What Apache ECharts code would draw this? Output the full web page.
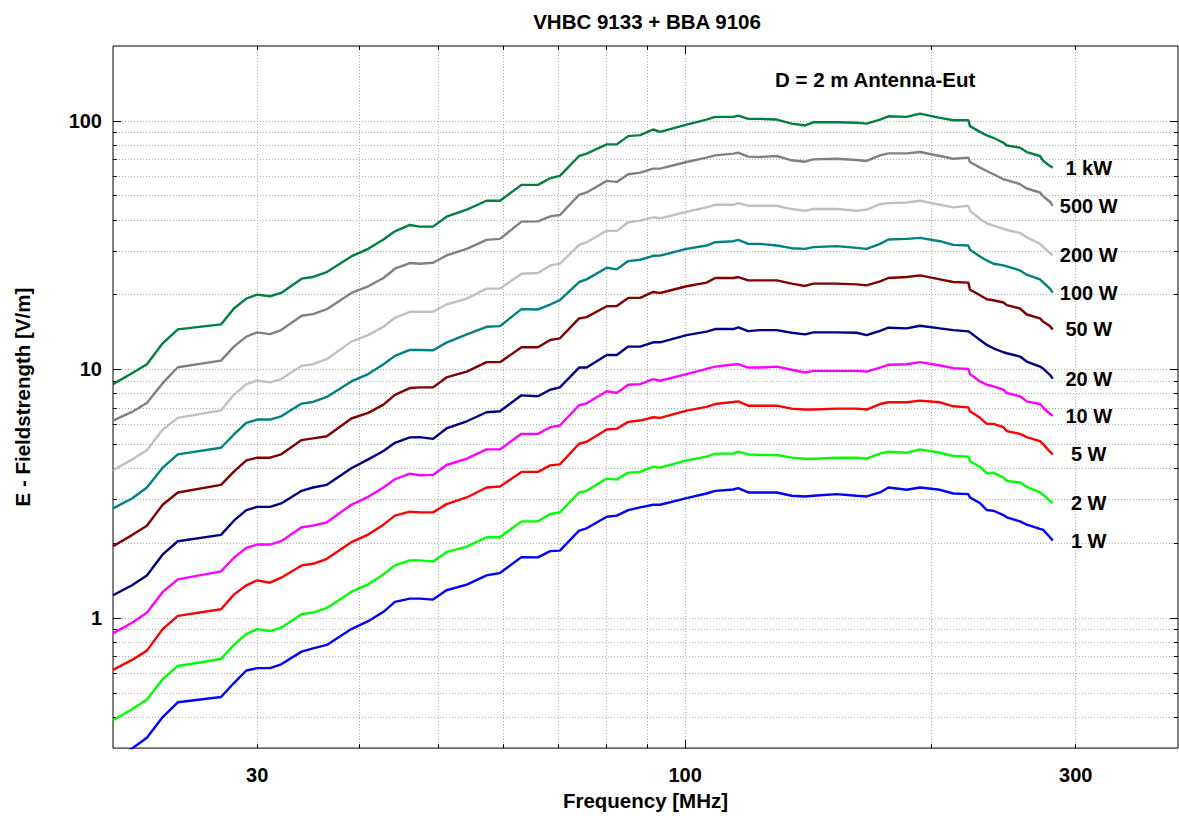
<!DOCTYPE html>
<html>
<head>
<meta charset="utf-8">
<script src="https://cdn.jsdelivr.net/npm/echarts@6.0.0/dist/echarts.min.js"></script>
<style>
html,body{margin:0;padding:0;background:#fff;}
#chart{width:1179px;height:816px;}
</style>
</head>
<body>
<div id="chart"></div>
<script>
// ---- data ----
const freqMHz = [
  20, 21.1, 22, 23, 24, 27.1, 28.1, 29.1, 30, 31.1,
  32.1, 34, 35.1, 36.5, 39.1, 41, 42.8, 44.2, 46.1, 47.4,
  49.2, 51.1, 54.1, 57.2, 59.4, 63.1, 66.1, 68.4, 70.3, 74.2,
  75.8, 80.2, 82.5, 85.2, 88.1, 91.4, 93.2, 100.4, 106.2, 108.8,
  114.5, 116.1, 119.4, 123.4, 129.4, 134.9, 140.1, 143.4, 153.1, 162,
  166.6, 173, 177.1, 186.5, 193.6, 204.8, 212.6, 221.8, 222.8, 229.2,
  233.6, 238, 244.8, 247.1, 256.5, 261.4, 271.3, 273.9, 279, 281.2
];
const e1kW = [
  8.73, 9.65, 10.5, 12.74, 14.5, 15.18, 17.59, 19.28, 20.01, 19.7,
  20.32, 23.19, 23.55, 24.65, 28.49, 30.56, 33.31, 35.96, 38.13, 37.55,
  37.55, 41.17, 43.91, 47.7, 47.7, 55.27, 55.27, 58.77, 60.04, 72.2,
  73.8, 80.4, 80.4, 86.8, 87.6, 92.3, 90.3, 96.6, 101.2, 103.7,
  103.7, 105.0, 101.8, 101.8, 101.2, 97.5, 95.8, 98.7, 98.7, 98.3,
  97.5, 101.2, 104.3, 103.7, 106.9, 102.8, 100.6, 100.6, 95.2, 90.3,
  87.4, 85.5, 81.6, 79.6, 78.0, 74.9, 72.2, 68.96, 65.8, 64.85
];
const e500W = [
  6.23, 6.75, 7.33, 8.81, 10.21, 10.86, 12.36, 13.55, 14.1, 13.88,
  14.4, 16.44, 16.7, 17.48, 20.32, 21.61, 23.33, 25.42, 26.79, 26.62,
  26.87, 28.74, 30.56, 33.21, 33.51, 39.32, 39.4, 41.3, 41.81, 50.41,
  51.51, 57.34, 56.81, 60.98, 61.93, 64.25, 64.25, 68.32, 71.11, 72.65,
  73.78, 74.46, 71.77, 71.54, 72.2, 69.4, 68.5, 70.0, 70.4, 69.6,
  68.96, 72.65, 74.0, 74.0, 74.9, 72.2, 70.4, 71.1, 68.3, 64.85,
  62.86, 60.98, 58.23, 57.7, 55.63, 53.45, 51.5, 49.65, 47.27, 45.56
];
const e200W = [
  3.93, 4.34, 4.73, 5.73, 6.39, 6.85, 7.91, 8.73, 9.03, 8.87,
  9.15, 10.34, 10.5, 11.0, 12.94, 13.75, 14.85, 16.14, 17.06, 17.06,
  17.06, 18.25, 19.28, 21.14, 21.14, 24.28, 24.43, 26.21, 26.62, 31.71,
  32.5, 36.18, 36.0, 39.08, 39.67, 40.93, 40.55, 43.1, 44.86, 45.97,
  45.97, 46.69, 45.56, 45.56, 45.56, 44.18, 43.5, 44.18, 44.18, 43.5,
  43.9, 46.26, 46.69, 46.97, 47.7, 45.97, 44.86, 45.56, 43.5, 40.3,
  38.7, 37.9, 36.75, 36.4, 35.42, 34.03, 32.0, 31.04, 29.46, 28.74
];
const e100W = [
  2.762, 3.028, 3.351, 4.029, 4.556, 4.844, 5.476, 6.1, 6.29, 6.29,
  6.48, 7.29, 7.4, 7.75, 8.95, 9.58, 10.5, 11.34, 11.98, 11.98,
  11.95, 12.82, 13.84, 14.85, 14.94, 17.48, 17.43, 18.25, 18.99, 22.48,
  23.04, 25.66, 25.27, 27.29, 27.62, 28.66, 28.7, 30.56, 31.51, 32.5,
  32.8, 33.21, 32.0, 32.0, 31.51, 30.75, 30.56, 31.04, 31.33, 30.85,
  30.56, 32.0, 33.31, 33.51, 33.82, 32.8, 31.71, 31.51, 30.28, 28.49,
  27.45, 26.62, 26.21, 25.97, 25.03, 24.05, 23.04, 22.35, 21.14, 20.38
];
const e50W = [
  1.946, 2.157, 2.354, 2.857, 3.201, 3.435, 3.884, 4.31, 4.418, 4.418,
  4.556, 5.2, 5.28, 5.39, 6.35, 6.69, 7.22, 7.91, 8.42, 8.47,
  8.47, 9.29, 9.81, 10.7, 10.7, 12.28, 12.28, 13.14, 13.34, 16.04,
  16.24, 17.97, 18.0, 19.4, 19.4, 20.5, 20.3, 21.61, 22.35, 23.33,
  23.33, 23.54, 22.83, 22.83, 22.83, 22.14, 21.67, 22.14, 22.14, 22.0,
  21.8, 22.62, 23.33, 23.54, 23.9, 23.04, 22.48, 22.35, 20.95, 19.88,
  19.16, 18.99, 18.59, 18.14, 17.59, 16.64, 16.04, 15.55, 14.94, 14.5
];
const e20W = [
  1.236, 1.355, 1.485, 1.803, 2.038, 2.161, 2.465, 2.72, 2.8, 2.8,
  2.892, 3.25, 3.351, 3.435, 4.005, 4.35, 4.7, 5.07, 5.33, 5.345,
  5.26, 5.79, 6.19, 6.73, 6.79, 7.87, 7.8, 8.29, 8.47, 10.18,
  10.18, 11.44, 11.44, 12.36, 12.36, 12.86, 12.86, 13.75, 14.19, 14.54,
  14.54, 14.77, 14.27, 14.4, 14.4, 14.05, 13.84, 14.1, 14.1, 14.05,
  13.75, 14.31, 14.72, 14.63, 14.99, 14.63, 14.4, 14.23, 14.1, 13.14,
  12.55, 12.17, 11.73, 11.62, 11.27, 10.76, 10.27, 10.06, 9.52, 9.18
];
const e10W = [
  0.868, 0.958, 1.05, 1.274, 1.432, 1.541, 1.748, 1.917, 1.976, 1.976,
  2.038, 2.319, 2.354, 2.428, 2.857, 3.075, 3.351, 3.618, 3.813, 3.754,
  3.766, 4.129, 4.377, 4.77, 4.77, 5.51, 5.51, 5.86, 5.95, 7.18,
  7.31, 8.17, 8.04, 8.68, 8.73, 9.15, 9.01, 9.58, 10.06, 10.27,
  10.47, 10.5, 10.18, 10.18, 10.27, 9.97, 9.72, 9.87, 9.87, 9.87,
  9.81, 10.18, 10.44, 10.5, 10.7, 10.37, 10.12, 10.06, 9.58, 8.95,
  8.68, 8.55, 8.29, 8.04, 7.8, 7.44, 7.26, 7.0, 6.63, 6.52
];
const e5W = [
  0.619, 0.679, 0.74, 0.903, 1.021, 1.086, 1.243, 1.355, 1.419, 1.388,
  1.454, 1.629, 1.654, 1.732, 2.02, 2.167, 2.376, 2.582, 2.679, 2.662,
  2.662, 2.874, 3.056, 3.351, 3.382, 3.872, 3.872, 4.116, 4.154, 5.025,
  5.12, 5.735, 5.77, 6.155, 6.23, 6.425, 6.39, 6.83, 7.07, 7.26,
  7.4, 7.44, 7.15, 7.15, 7.15, 6.96, 6.9, 6.9, 6.96, 6.96,
  6.9, 7.26, 7.38, 7.38, 7.49, 7.38, 7.11, 7.04, 6.79, 6.39,
  6.04, 6.04, 5.86, 5.65, 5.51, 5.345, 5.15, 4.995, 4.67, 4.556
];
const e2W = [
  0.388, 0.43, 0.47, 0.568, 0.642, 0.685, 0.78, 0.863, 0.903, 0.887,
  0.915, 1.037, 1.053, 1.099, 1.274, 1.367, 1.499, 1.629, 1.706, 1.706,
  1.69, 1.842, 1.94, 2.114, 2.114, 2.45, 2.45, 2.621, 2.662, 3.201,
  3.25, 3.64, 3.607, 3.847, 3.87, 4.067, 4.03, 4.31, 4.46, 4.585,
  4.585, 4.67, 4.556, 4.53, 4.53, 4.418, 4.377, 4.377, 4.418, 4.418,
  4.377, 4.585, 4.67, 4.625, 4.77, 4.625, 4.486, 4.46, 4.283, 4.054,
  3.825, 3.847, 3.674, 3.563, 3.509, 3.372, 3.201, 3.133, 2.964, 2.9
];
const e1W = [
  0.27, 0.299, 0.33, 0.4, 0.4585, 0.4815, 0.548, 0.6155, 0.629, 0.629,
  0.652, 0.733, 0.756, 0.78, 0.903, 0.972, 1.06, 1.162, 1.198, 1.198,
  1.187, 1.294, 1.363, 1.485, 1.518, 1.759, 1.755, 1.859, 1.868, 2.248,
  2.297, 2.557, 2.582, 2.72, 2.787, 2.857, 2.857, 3.038, 3.171, 3.25,
  3.29, 3.331, 3.201, 3.201, 3.201, 3.104, 3.085, 3.104, 3.151, 3.104,
  3.085, 3.201, 3.351, 3.281, 3.351, 3.281, 3.171, 3.151, 3.056, 2.9,
  2.72, 2.703, 2.597, 2.542, 2.45, 2.376, 2.283, 2.262, 2.114, 2.05
];
const seriesNames = ['1 kW', '500 W', '200 W', '100 W', '50 W', '20 W', '10 W', '5 W', '2 W', '1 W'];
const seriesValues = [e1kW, e500W, e200W, e100W, e50W, e20W, e10W, e5W, e2W, e1W];
const seriesColors = ['#008040', '#808080', '#c0c0c0', '#008080', '#800000', '#000080', '#ff00ff', '#ff0000', '#00ff00', '#0000ff'];

// axis ticks / labels
const xGridTicks = [30, 40, 50, 60, 70, 80, 90, 100, 200, 300];
const xMajorTicks = [100];
const xTickLabels = [30, 100, 300];
const yGridTicks = [0.4, 0.5, 0.6, 0.7, 0.8, 0.9, 1, 2, 3, 4, 5, 6, 7, 8, 9, 10,
                    20, 30, 40, 50, 60, 70, 80, 90, 100];
const yMajorTicks = [1, 10, 100];
const yTickLabels = [1, 10, 100];
const X_MIN = 20, X_MAX = 400, Y_MIN = 0.3, Y_MAX = 200;

const chartTitle = 'VHBC 9133 + BBA 9106';
const noteText = 'D = 2 m Antenna-Eut';
const xName = 'Frequency [MHz]';
const yName = 'E - Fieldstrength [V/m]';

// ---- chart ----
const FONT = '"Liberation Sans", Arial, Helvetica, sans-serif';
const splitStyle = { color: '#b0b0b0', width: 1, type: [1, 2] };

function makeAxis(kind, position, ticks, tickLen, extra) {
  const ax = {
    type: 'log', logBase: 10,
    min: kind === 'x' ? X_MIN : Y_MIN,
    max: kind === 'x' ? X_MAX : Y_MAX,
    position: position,
    axisLine: { show: false },
    axisTick: { show: true, inside: true, length: tickLen, customValues: ticks,
                lineStyle: { color: '#000', width: 1 } },
    axisLabel: { show: false },
    splitLine: { show: false },
    axisPointer: { show: false }
  };
  return Object.assign(ax, extra || {});
}

const labelStyle = { fontSize: 20, fontWeight: 'bold', color: '#000', fontFamily: FONT };
const nameStyle = { fontSize: 20.5, fontWeight: 'bold', color: '#000', fontFamily: FONT };

const option = {
  backgroundColor: '#fff',
  animation: false,
  grid: { left: 113, right: 1, top: 46, bottom: 64, show: true,
          borderColor: '#000', borderWidth: 1, backgroundColor: 'transparent' },
  graphic: [
    { type: 'text', x: 647, y: 21, silent: true,
      style: { text: chartTitle, align: 'center', verticalAlign: 'middle',
               font: 'bold 20.5px ' + FONT, fill: '#000' } },
    { type: 'text', x: 775, y: 79, silent: true,
      style: { text: noteText, align: 'left', verticalAlign: 'middle',
               font: 'bold 20.5px ' + FONT, fill: '#000' } }
  ],
  xAxis: [
    makeAxis('x', 'bottom', xGridTicks, 4, {
      axisLabel: Object.assign({ show: true, customValues: xTickLabels, margin: 17 }, labelStyle),
      splitLine: { show: true, lineStyle: splitStyle },
      name: xName, nameLocation: 'middle', nameGap: 41, nameTextStyle: nameStyle
    }),
    makeAxis('x', 'bottom', xMajorTicks, 8),
    makeAxis('x', 'top', xGridTicks, 4),
    makeAxis('x', 'top', xMajorTicks, 8)
  ],
  yAxis: [
    makeAxis('y', 'left', yGridTicks, 4, {
      axisLabel: Object.assign({ show: true, customValues: yTickLabels, margin: 11 }, labelStyle),
      splitLine: { show: true, lineStyle: splitStyle },
      name: yName, nameLocation: 'middle', nameGap: 80, nameRotate: 90, nameTextStyle: nameStyle
    }),
    makeAxis('y', 'left', yMajorTicks, 8),
    makeAxis('y', 'right', yGridTicks, 4),
    makeAxis('y', 'right', yMajorTicks, 8)
  ],
  series: seriesNames.map(function (name, i) {
    return {
      name: name,
      type: 'line',
      xAxisIndex: 0, yAxisIndex: 0,
      data: freqMHz.map(function (f, k) { return [f, seriesValues[i][k]]; }),
      showSymbol: false, symbol: 'none',
      clip: true,
      lineStyle: { color: seriesColors[i], width: 2.4 },
      itemStyle: { color: seriesColors[i] },
      endLabel: { show: true, formatter: name, distance: 36, align: 'center',
                  verticalAlign: 'middle', fontSize: 20, fontWeight: 'bold',
                  color: '#000', fontFamily: FONT },
      emphasis: { disabled: true }
    };
  })
};

const chart = echarts.init(document.getElementById('chart'), null, { renderer: 'svg' });
chart.setOption(option);
</script>
</body>
</html>
